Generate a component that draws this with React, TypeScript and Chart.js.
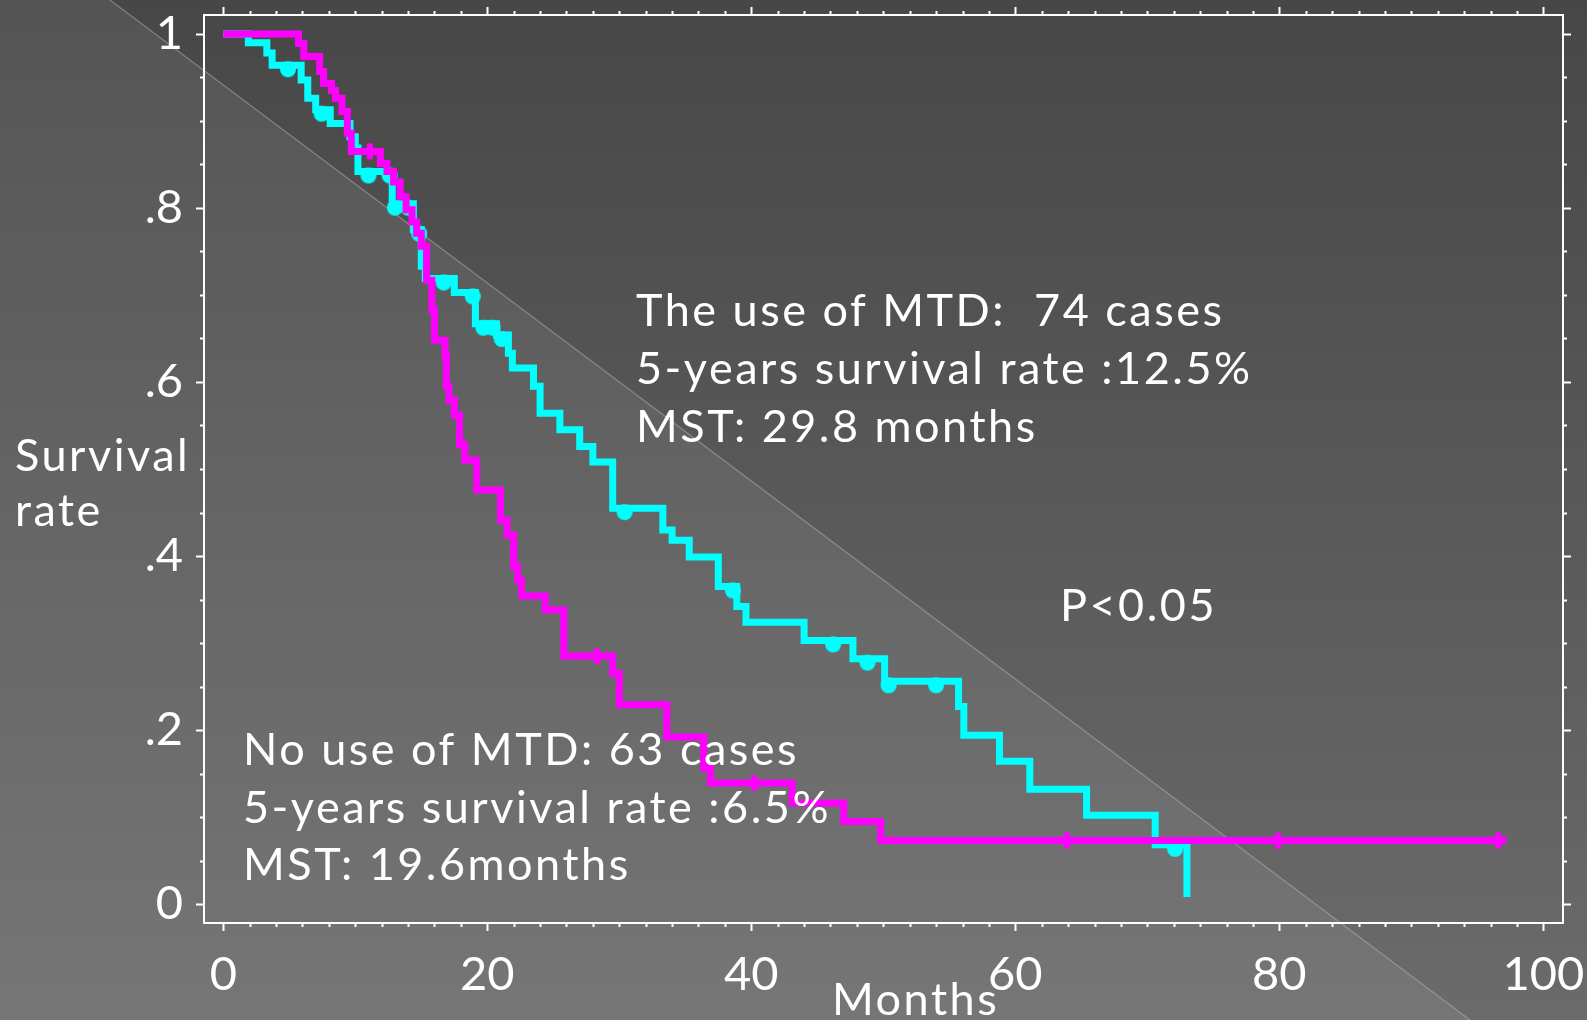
import { useEffect, useRef } from "react";
import { Chart, registerables } from "chart.js";

Chart.register(...registerables);

// ---- Data ----
// "No use of MTD" (magenta) Kaplan-Meier steps
const NO_MTD_MONTHS = [0, 5.7, 6.1, 7.3, 7.6, 8.2, 8.5, 9.0, 9.4, 9.7, 11.9, 12.4, 12.9, 13.4, 13.85, 14.3, 14.65, 15.0, 15.4, 15.8, 16.0, 16.8, 16.9, 17.1, 17.5, 17.9, 18.3, 19.2, 21.0, 21.5, 22.0, 22.3, 22.6, 24.4, 25.8, 29.5, 30.0, 33.6, 36.4, 36.9, 43.1, 47.0, 49.8, 97.2];
const NO_MTD_SURV = [1.0, 0.989, 0.974, 0.957, 0.943, 0.935, 0.926, 0.911, 0.886, 0.865, 0.851, 0.842, 0.83, 0.813, 0.798, 0.784, 0.771, 0.756, 0.717, 0.683, 0.648, 0.631, 0.595, 0.579, 0.562, 0.528, 0.51, 0.476, 0.441, 0.424, 0.388, 0.372, 0.354, 0.338, 0.285, 0.265, 0.229, 0.192, 0.156, 0.139, 0.116, 0.095, 0.073, 0.073];
const NO_MTD_CENSOR_MONTHS = [11.1, 28.3, 40.2, 63.9, 79.9, 96.6];
const NO_MTD_CENSOR_SURV = [0.865, 0.285, 0.139, 0.073, 0.073, 0.073];

// "The use of MTD" (cyan) Kaplan-Meier steps
const MTD_MONTHS = [0, 1.9, 3.3, 3.7, 5.9, 6.4, 7.0, 8.1, 9.6, 10.0, 10.2, 12.8, 14.4, 15.0, 15.3, 17.5, 19.1, 20.7, 21.6, 21.9, 23.5, 24.0, 25.5, 27.0, 28.0, 29.5, 33.3, 34.0, 35.3, 37.5, 38.9, 39.6, 44.0, 47.7, 50.1, 55.7, 56.1, 58.8, 61.1, 65.4, 70.6, 73.0];
const MTD_SURV = [1.0, 0.99, 0.978, 0.964, 0.947, 0.926, 0.913, 0.897, 0.882, 0.869, 0.842, 0.805, 0.775, 0.733, 0.719, 0.703, 0.667, 0.654, 0.633, 0.616, 0.595, 0.564, 0.545, 0.526, 0.508, 0.455, 0.43, 0.418, 0.399, 0.365, 0.342, 0.324, 0.303, 0.282, 0.256, 0.227, 0.194, 0.164, 0.132, 0.102, 0.068, 0.008];
const MTD_CENSOR_MONTHS = [4.9, 7.45, 11.0, 12.6, 13.0, 14.0, 14.85, 16.7, 18.9, 19.7, 20.4, 21.1, 30.4, 38.6, 46.2, 48.8, 50.4, 54.0, 72.1];
const MTD_CENSOR_SURV = [0.964, 0.913, 0.842, 0.842, 0.805, 0.805, 0.775, 0.719, 0.703, 0.667, 0.667, 0.654, 0.455, 0.365, 0.303, 0.282, 0.256, 0.256, 0.068];

// Axes
const X_MAJOR_TICKS = [0, 20, 40, 60, 80, 100];
const X_MINOR_STEP = 2;
const Y_MAJOR_TICKS = [0, 0.2, 0.4, 0.6, 0.8, 1];
const Y_TICK_LABELS = ["0", ".2", ".4", ".6", ".8", "1"];
const Y_MINOR_STEP = 0.05;

// Texts
const MTD_TEXT = ["The use of MTD:  74 cases", "5-years survival rate :12.5%", "MST: 29.8 months"];
const NO_MTD_TEXT = ["No use of MTD: 63 cases", "5-years survival rate :6.5%", "MST: 19.6months"];
const P_TEXT = "P<0.05";
const Y_TITLE = ["Survival", "rate"];
const X_TITLE = "Months";

const CYAN = "#00ffff";
const MAGENTA = "#ff00ff";
const FONT_FAMILY = "Lato, 'Open Sans', sans-serif";

function pairs(xs: number[], ys: number[]) {
  return xs.map((x, i) => ({ x, y: ys[i] }));
}

function makeHangingDot(color: string, r: number, drop: number) {
  const c = document.createElement("canvas");
  const w = Math.ceil(2 * r + 2);
  const h = Math.ceil(2 * (r + drop) + 2);
  c.width = w;
  c.height = h;
  const g = c.getContext("2d")!;
  g.fillStyle = color;
  g.beginPath();
  g.arc(w / 2, h / 2 + drop, r, 0, Math.PI * 2);
  g.fill();
  return c;
}

const backgroundPlugin = {
  id: "slideBackground",
  beforeDraw(chart: any) {
    const { ctx, width, height } = chart;
    ctx.save();
    const g = ctx.createLinearGradient(0, 0, 0, height);
    g.addColorStop(0, "#474747");
    g.addColorStop(1, "#6b6b6b");
    ctx.fillStyle = g;
    ctx.fillRect(0, 0, width, height);
    // lighter band below-left of the diagonal
    const x0 = 110;
    const slope = 0.75;
    ctx.beginPath();
    ctx.moveTo(x0, 0);
    ctx.lineTo(x0 + height / slope, height);
    ctx.lineTo(0, height);
    ctx.lineTo(0, 0);
    ctx.closePath();
    ctx.fillStyle = "rgba(255,255,255,0.075)";
    ctx.fill();
    ctx.beginPath();
    ctx.moveTo(x0, 0);
    ctx.lineTo(x0 + height / slope, height);
    ctx.strokeStyle = "rgba(190,190,190,0.45)";
    ctx.lineWidth = 1.2;
    ctx.stroke();
    ctx.restore();
  },
};

const framePlugin = {
  id: "frameTicks",
  beforeDatasetsDraw(chart: any) {
    const { ctx, chartArea } = chart;
    const xs = chart.scales.x;
    const ys = chart.scales.y;
    const { left, right, top, bottom } = chartArea;
    ctx.save();
    ctx.strokeStyle = "#ffffff";
    ctx.lineWidth = 2;
    ctx.strokeRect(left, top, right - left, bottom - top);
    const major = 8;
    const minor = 4;
    ctx.lineWidth = 2;
    ctx.beginPath();
    for (let v = 0; v <= 100 + 1e-9; v += X_MINOR_STEP) {
      const isMajor = X_MAJOR_TICKS.some((t) => Math.abs(t - v) < 1e-6);
      const len = isMajor ? major : minor;
      const px = Math.round(xs.getPixelForValue(v)) + 0.5;
      ctx.moveTo(px, bottom);
      ctx.lineTo(px, bottom + len);
      ctx.moveTo(px, top);
      ctx.lineTo(px, top - len);
    }
    for (let k = 0; k <= 20; k++) {
      const v = k * Y_MINOR_STEP;
      const isMajor = Y_MAJOR_TICKS.some((t) => Math.abs(t - v) < 1e-6);
      const len = isMajor ? major : minor;
      const py = Math.round(ys.getPixelForValue(v)) + 0.5;
      ctx.moveTo(left, py);
      ctx.lineTo(left - len, py);
      ctx.moveTo(right, py);
      ctx.lineTo(right + len, py);
    }
    ctx.stroke();
    ctx.restore();
  },
};

const textPlugin = {
  id: "slideTexts",
  afterDraw(chart: any) {
    const { ctx } = chart;
    ctx.save();
    ctx.fillStyle = "#ffffff";
    ctx.textBaseline = "alphabetic";
    ctx.textAlign = "left";
    ctx.font = `45px ${FONT_FAMILY}`;
    (ctx as any).letterSpacing = "2.5px";
    MTD_TEXT.forEach((t, i) => ctx.fillText(t, 636, 326 + i * 58));
    NO_MTD_TEXT.forEach((t, i) => ctx.fillText(t, 243, 765 + i * 57.5));
    ctx.fillText(P_TEXT, 1060, 621);
    Y_TITLE.forEach((t, i) => ctx.fillText(t, 15, 471 + i * 55));
    ctx.fillText(X_TITLE, 832, 1015);
    ctx.restore();
  },
};

function zeroPadding(s: any) {
  s.paddingTop = 0;
  s.paddingBottom = 0;
  s.paddingLeft = 0;
  s.paddingRight = 0;
}

export default function App() {
  const ref = useRef<HTMLCanvasElement | null>(null);

  useEffect(() => {
    if (!ref.current) return;
    const dot = makeHangingDot(CYAN, 8, 4);
    const chart = new Chart(ref.current, {
      type: "line",
      data: {
        datasets: [
          {
            label: "No use of MTD censored",
            data: pairs(NO_MTD_CENSOR_MONTHS, NO_MTD_CENSOR_SURV),
            showLine: false,
            pointStyle: "line",
            rotation: 90,
            pointRadius: 8,
            pointBorderWidth: 6,
            borderColor: MAGENTA,
            backgroundColor: MAGENTA,
            order: 0,
          },
          {
            label: "No use of MTD",
            data: pairs(NO_MTD_MONTHS, NO_MTD_SURV),
            stepped: "before",
            borderColor: MAGENTA,
            borderWidth: 7,
            pointRadius: 0,
            fill: false,
            borderCapStyle: "butt",
            borderJoinStyle: "miter",
            order: 1,
          },
          {
            label: "The use of MTD censored",
            data: pairs(MTD_CENSOR_MONTHS, MTD_CENSOR_SURV),
            showLine: false,
            pointStyle: dot as any,
            pointRadius: 8,
            borderColor: CYAN,
            backgroundColor: CYAN,
            order: 2,
          },
          {
            label: "The use of MTD",
            data: pairs(MTD_MONTHS, MTD_SURV),
            stepped: "before",
            borderColor: CYAN,
            borderWidth: 7,
            pointRadius: 0,
            fill: false,
            borderCapStyle: "butt",
            borderJoinStyle: "miter",
            order: 3,
          },
        ],
      } as any,
      options: {
        animation: false,
        responsive: false,
        maintainAspectRatio: false,
        layout: { padding: { left: 0, top: 15, right: 24, bottom: 0 } },
        plugins: { legend: { display: false }, tooltip: { enabled: false } },
        scales: {
          x: {
            type: "linear",
            min: -1.46,
            max: 101.49,
            afterFit: (s: any) => {
              s.height = 97;
              zeroPadding(s);
            },
            grid: { display: false, drawTicks: false },
            border: { display: false },
            ticks: {
              stepSize: 20,
              includeBounds: false,
              autoSkip: false,
              maxRotation: 0,
              padding: 24,
              color: "#ffffff",
              font: { family: FONT_FAMILY, size: 47 },
            },
          },
          y: {
            type: "linear",
            min: -0.0218,
            max: 1.0218,
            afterFit: (s: any) => {
              s.width = 204;
              zeroPadding(s);
            },
            grid: { display: false, drawTicks: false },
            border: { display: false },
            ticks: {
              stepSize: 0.2,
              includeBounds: false,
              autoSkip: false,
              padding: 21,
              color: "#ffffff",
              font: { family: FONT_FAMILY, size: 47 },
              callback: (v: any) => {
                const idx = Y_MAJOR_TICKS.findIndex((t) => Math.abs(t - Number(v)) < 1e-6);
                return idx >= 0 ? Y_TICK_LABELS[idx] : "";
              },
            },
          },
        },
      } as any,
      plugins: [backgroundPlugin, framePlugin, textPlugin],
    });
    return () => chart.destroy();
  }, []);

  return (
    <div style={{ position: "fixed", left: 0, top: 0, width: 1587, height: 1020, overflow: "hidden" }}>
      <canvas ref={ref} width={1587} height={1020} style={{ display: "block", width: 1587, height: 1020 }} />
    </div>
  );
}
